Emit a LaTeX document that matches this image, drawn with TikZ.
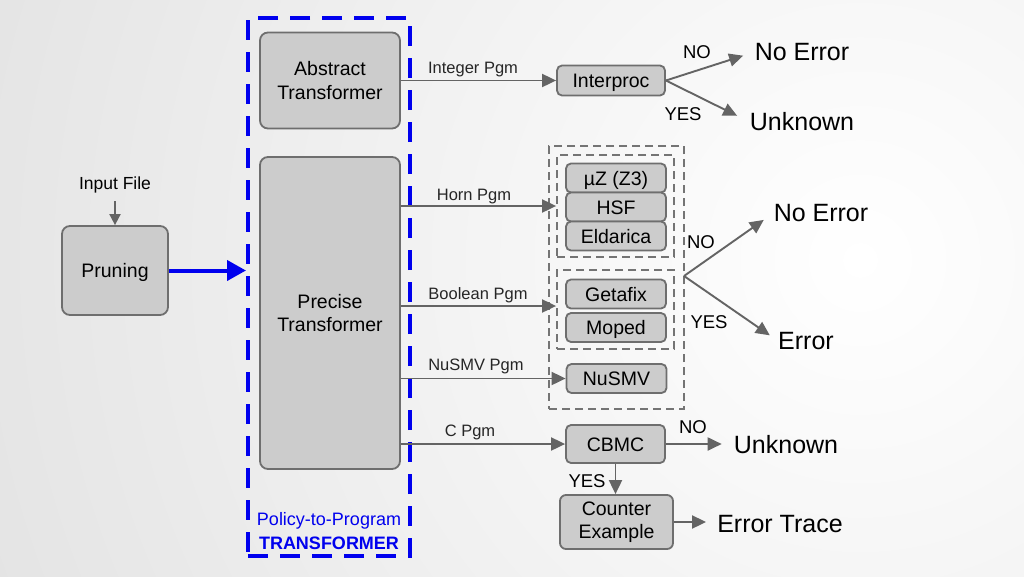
\documentclass[tikz,border=0pt]{standalone}
\usepackage{fontspec}
\setmainfont{Liberation Sans}
\usetikzlibrary{arrows.meta}
\definecolor{boxfill}{HTML}{CCCCCC}
\definecolor{boxline}{HTML}{6E6E6E}
\definecolor{arr}{HTML}{646464}
\definecolor{pblue}{HTML}{0000EE}
\begin{document}
\begin{tikzpicture}[x=1pt,y=-1pt,
 box/.style={draw=boxline,fill=boxfill,line width=1.8pt,rounded corners=8pt,inner sep=0pt,align=center,font=\fontsize{19.5}{23.5}\selectfont},
 sbox/.style={box,rounded corners=5pt,minimum width=100pt,minimum height=29pt,text height=14pt,text depth=0pt},
 arrow/.style={draw=arr,line width=1.9pt,-{Triangle[length=14pt,width=13pt]}},
 elab/.style={font=\fontsize{16.5}{20}\selectfont,text=black!85,inner sep=0pt,text height=12pt,text depth=0pt},
 yn/.style={font=\fontsize{18.5}{22}\selectfont,inner sep=0pt},
 outc/.style={font=\fontsize{25}{30}\selectfont,inner sep=0pt},
 gdash/.style={draw=arr!90,line width=1.8pt,dash pattern=on 8pt off 5pt,inner sep=0pt},
]
\useasboundingbox (0,0) rectangle (1024,576);
\begin{scope}
\clip (0,0) rectangle (1024,576);
\shade[inner color=white,outer color=black!16] (860,260) circle (1400pt);
\end{scope}

% transformer frame
\node[draw=pblue,line width=4pt,dash pattern=on 20pt off 12pt,minimum width=162pt,minimum height=538pt,inner sep=0pt] (ptp) at (329,287) {};
\node[box,minimum width=140pt,minimum height=96pt] (abs) at (330,80.5) {Abstract\\Transformer};
\node[box,minimum width=140pt,minimum height=312pt] (prec) at (330,313) {Precise\\Transformer};
\path (prec.north) ++(0,-1) coordinate (precN);
\node[font=\fontsize{18}{21}\selectfont,text=pblue,inner sep=0pt] (ptpa) at (329,521) {Policy-to-Program};
\node[font=\fontsize{18}{21}\selectfont\bfseries,text=pblue,inner sep=0pt] (ptpb) at (329,543) {TRANSFORMER};

% input
\node[box,minimum width=106pt,minimum height=89pt,text height=14pt,text depth=0pt] (prun) at (115,270.5) {Pruning};
\node[font=\fontsize{17.5}{21}\selectfont,inner sep=0pt,text height=12.5pt,text depth=0pt] (inp) at (115,183) {Input File};
\draw[draw=arr,line width=1.8pt,-{Triangle[length=11pt,width=11pt]},shorten <=12pt] (inp.south) -- (prun.north);
\draw[draw=pblue,line width=4pt,-{Triangle[length=19pt,width=20pt]}] (prun.east) -- (prun.east -| ptp.west);

% Interproc
\node[sbox,minimum width=108pt,minimum height=30pt] (interp) at (611,80.5) {Interproc};
\draw[arrow] (abs.east) -- (interp.west);
\node[elab] (lint) at (473,67) {Integer Pgm};
\node[outc] (ne1) at (802,52) {No Error};
\node[outc] (unk1) at (802,122) {Unknown};
\draw[arrow,shorten >=12pt] (interp.east) -- (ne1.west);
\draw[arrow,shorten >=14pt] (interp.east) -- (unk1.west);
\node[yn] (no1) at (697,52) {NO};
\node[yn] (yes1) at (683,114) {YES};

% solver groups
\node[gdash,minimum width=135pt,minimum height=263pt] (grp) at (616.5,277.5) {};
\node[gdash,minimum width=117pt,minimum height=102pt] (in1) at (615.5,206) {};
\node[gdash,minimum width=117pt,minimum height=79pt] (in2) at (615.5,309.5) {};
\node[sbox] (muz) at (616,178) {µZ (Z3)};
\node[sbox] (hsf) at (616,207) {HSF};
\node[sbox] (eld) at (616,236) {Eldarica};
\node[sbox] (get) at (616,294) {Getafix};
\node[sbox] (mop) at (616,327.5) {Moped};
\node[sbox] (nus) at (616.5,378.5) {NuSMV};

\draw[arrow] (prec.east |- in1.west) -- (in1.west);
\node[elab] (lhorn) at (474,194) {Horn Pgm};
\coordinate (bY) at (0,306);
\draw[arrow] (prec.east |- bY) -- (in2.west |- bY);
\node[elab] (lbool) at (478,293) {Boolean Pgm};
\draw[arrow] (prec.east |- nus.west) -- (nus.west);
\node[elab] (lnus) at (476,364) {NuSMV Pgm};

\coordinate (br) at (684,276);
\node[outc] (ne2) at (821,213) {No Error};
\node[outc] (err) at (806,341) {Error};
\draw[arrow,shorten >=12pt] (br) -- (ne2.west);
\draw[arrow,shorten >=10pt] (br) -- (err.west);
\node[yn] (no2) at (701,242) {NO};
\node[yn] (yes2) at (709,322) {YES};

% CBMC
\node[sbox,minimum width=99pt,minimum height=38pt] (cbmc) at (615.5,444) {CBMC};
\draw[arrow] (prec.east |- cbmc.west) -- (cbmc.west);
\node[elab] (lc) at (470,430) {C Pgm};
\node[outc] (unk2) at (786,445) {Unknown};
\draw[arrow,shorten >=12pt] (cbmc.east) -- (cbmc.east -| unk2.west);
\node[yn] (no3) at (693,427) {NO};
\node[box,rounded corners=6pt,minimum width=113pt,minimum height=54pt] (ce) at (616.5,522) {Counter\\Example};
\draw[arrow] (cbmc.south) -- (cbmc.south |- ce.north);
\node[yn] (yes3) at (587,481) {YES};
\node[outc] (et) at (780,524) {Error Trace};
\draw[arrow,shorten >=11pt] (ce.east) -- (ce.east -| et.west);
\end{tikzpicture}
\end{document}
